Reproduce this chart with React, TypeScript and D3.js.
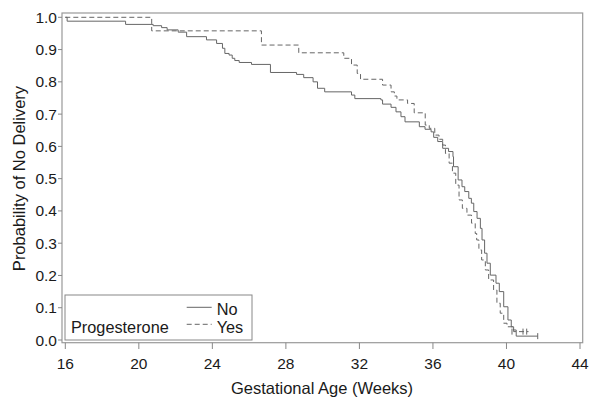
import React from "react";
import * as d3 from "d3";

const xTicks = [16, 20, 24, 28, 32, 36, 40, 44];
const yTicks = [0, 0.1, 0.2, 0.3, 0.4, 0.5, 0.6, 0.7, 0.8, 0.9, 1.0];

const noWeeks = [16, 16.1, 19.28, 20.78, 21.24, 21.54, 22.14, 22.6, 23.68, 24.23, 24.55, 24.68, 24.91, 25.08, 25.22, 25.46, 26.13, 27.16, 28.58, 28.97, 29.48, 29.72, 30.11, 31.57, 31.75, 33.17, 33.26, 33.72, 33.99, 34.26, 34.48, 35.26, 35.57, 35.9, 36.04, 36.26, 36.53, 36.85, 37.09, 37.12, 37.37, 37.58, 37.73, 37.95, 38.09, 38.22, 38.4, 38.58, 38.67, 38.81, 38.94, 39.12, 39.43, 39.61, 39.85, 40.08, 40.26, 40.39, 40.53, 41.7];
const noSurv = [1.0, 0.988, 0.978, 0.974, 0.968, 0.961, 0.954, 0.94, 0.93, 0.919, 0.904, 0.888, 0.883, 0.873, 0.866, 0.86, 0.854, 0.829, 0.823, 0.813, 0.8, 0.78, 0.769, 0.759, 0.748, 0.744, 0.731, 0.721, 0.707, 0.692, 0.676, 0.661, 0.653, 0.645, 0.628, 0.615, 0.594, 0.584, 0.568, 0.537, 0.496, 0.475, 0.46, 0.439, 0.424, 0.398, 0.377, 0.346, 0.31, 0.269, 0.238, 0.201, 0.176, 0.15, 0.103, 0.062, 0.041, 0.031, 0.012, 0.012];

const yesWeeks = [16, 20.7, 26.67, 28.7, 31.15, 31.57, 31.88, 32.06, 33.26, 33.72, 33.9, 34.04, 34.62, 34.98, 35.58, 35.8, 36.1, 36.33, 36.53, 36.68, 36.88, 37.06, 37.24, 37.42, 37.6, 37.85, 38.1, 38.3, 38.38, 38.5, 38.65, 38.85, 39.03, 39.3, 39.48, 39.66, 39.85, 40.03, 40.39, 41.2];
const yesSurv = [1.0, 0.958, 0.914, 0.89, 0.873, 0.852, 0.826, 0.808, 0.79, 0.769, 0.756, 0.744, 0.733, 0.704, 0.666, 0.656, 0.635, 0.622, 0.604, 0.578, 0.548, 0.517, 0.48, 0.434, 0.408, 0.387, 0.362, 0.33, 0.31, 0.279, 0.248, 0.217, 0.186, 0.155, 0.114, 0.083, 0.052, 0.041, 0.026, 0.026];

const noCensor = [41.7];
const yesCensor = [40.3, 40.9, 41.1];

const FONT = "'Liberation Sans', Arial, sans-serif";
const LINE = "#666";
const TXT = "#1a1a1a";

export default function App() {
  const x = d3.scaleLinear().domain([16, 44]).range([65.3, 580]);
  const y = d3.scaleLinear().domain([0, 1]).range([340, 17.3]);
  const line = d3
    .line<[number, number]>()
    .x((d) => x(d[0]))
    .y((d) => y(d[1]))
    .curve(d3.curveStepAfter);
  const noData: [number, number][] = noWeeks.map((w, i) => [w, noSurv[i]]);
  const yesData: [number, number][] = yesWeeks.map((w, i) => [w, yesSurv[i]]);
  const noLast = noSurv[noSurv.length - 1];
  const yesLast = yesSurv[yesSurv.length - 1];

  return (
    <svg width={600} height={412} style={{ position: "absolute", left: 0, top: 0, background: "#fff" }}>
      <rect x={0} y={0} width={600} height={412} fill="#fff" />
      <rect x={62} y={13} width={520.7} height={329.7} fill="none" stroke="#999" strokeWidth={1.2} />
      {xTicks.map((t) => (
        <g key={"x" + t}>
          <line x1={x(t)} x2={x(t)} y1={342.7} y2={349} stroke="#888" strokeWidth={1} />
          <text x={x(t)} y={369} textAnchor="middle" fontFamily={FONT} fontSize={15.5} fill={TXT}>
            {t}
          </text>
        </g>
      ))}
      {yTicks.map((t) => (
        <g key={"y" + t}>
          <line x1={58} x2={62} y1={y(t)} y2={y(t)} stroke="#888" strokeWidth={1} />
          <text x={57} y={y(t) + 5.5} textAnchor="end" fontFamily={FONT} fontSize={15.5} fill={TXT}>
            {t.toFixed(1)}
          </text>
        </g>
      ))}
      <text x={322} y={394} textAnchor="middle" fontFamily={FONT} fontSize={16.5} fill={TXT}>
        Gestational Age (Weeks)
      </text>
      <text
        transform="translate(25,178.5) rotate(-90)"
        textAnchor="middle"
        fontFamily={FONT}
        fontSize={16.5}
        fill={TXT}
      >
        Probability of No Delivery
      </text>
      <path d={line(noData) || ""} fill="none" stroke={LINE} strokeWidth={1} />
      <path d={line(yesData) || ""} fill="none" stroke={LINE} strokeWidth={1} strokeDasharray="5,3" />
      {noCensor.map((c, i) => (
        <line key={"nc" + i} x1={x(c)} x2={x(c)} y1={y(noLast) - 3} y2={y(noLast) + 3} stroke={LINE} />
      ))}
      {yesCensor.map((c, i) => (
        <line key={"yc" + i} x1={x(c)} x2={x(c)} y1={y(yesLast) - 3} y2={y(yesLast) + 3} stroke={LINE} />
      ))}
      <rect x={65} y={295} width={187} height={45} fill="#fff" stroke="#888" strokeWidth={1} />
      <text x={71} y={332.5} fontFamily={FONT} fontSize={16.3} fill={TXT}>
        Progesterone
      </text>
      <line x1={186.7} x2={211.7} y1={307.3} y2={307.3} stroke={LINE} strokeWidth={1} />
      <line x1={186.7} x2={211.7} y1={324.3} y2={324.3} stroke={LINE} strokeWidth={1} strokeDasharray="5,3" />
      <text x={216.7} y={315} fontFamily={FONT} fontSize={16.3} fill={TXT}>
        No
      </text>
      <text x={216.7} y={332.5} fontFamily={FONT} fontSize={16.3} fill={TXT}>
        Yes
      </text>
    </svg>
  );
}
